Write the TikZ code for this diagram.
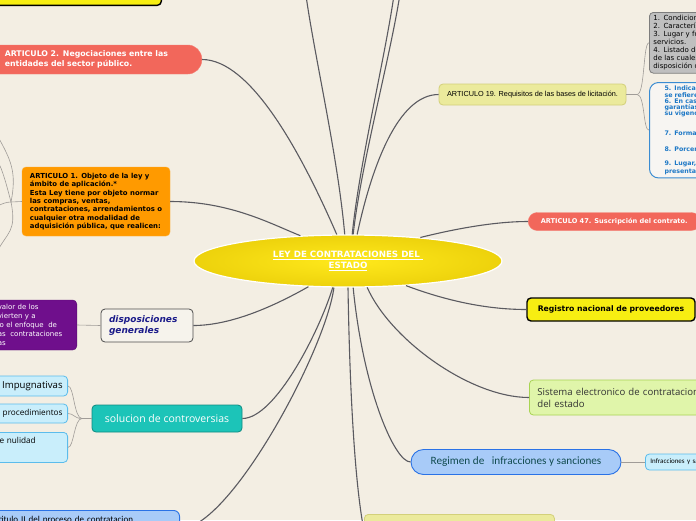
\documentclass[tikz,border=0pt]{standalone}
\usepackage{fontspec}
\setmainfont{DejaVu Sans}
\newfontfamily\calfont{Carlito}
\newfontfamily\opfont{Open Sans}
\newfontfamily\arfont{Liberation Sans}
\usepackage{tikz}
\usetikzlibrary{shapes.geometric}
\definecolor{paper}{HTML}{F3EEE3}
\definecolor{linegray}{HTML}{5A5A60}
\definecolor{twiggray}{HTML}{A09C98}
\definecolor{salmon}{HTML}{F2675B}
\definecolor{orangefill}{HTML}{FF9A00}
\definecolor{purplefill}{HTML}{6F0F8C}
\definecolor{dispfill}{HTML}{F6F3EC}
\definecolor{disptext}{HTML}{1B1B8A}
\definecolor{tealfill}{HTML}{1CC4B8}
\definecolor{tealline}{HTML}{0F8A80}
\definecolor{skyfill}{HTML}{C9EEFB}
\definecolor{skyline}{HTML}{5BBCEC}
\definecolor{bluefill}{HTML}{A8CBF8}
\definecolor{blueline}{HTML}{2A72E6}
\definecolor{khakifill}{HTML}{EBEA9C}
\definecolor{khakiline}{HTML}{D3D07A}
\definecolor{greyfill}{HTML}{BFBFBF}
\definecolor{greyline}{HTML}{7D7D7D}
\definecolor{notefill}{HTML}{F7F5F2}
\definecolor{noteline}{HTML}{3A8CD2}
\definecolor{notetext}{HTML}{1D78C6}
\definecolor{greenfill}{HTML}{E0F5AA}
\definecolor{greenline}{HTML}{A8D453}
\definecolor{regyellow}{HTML}{F7EE12}
\definecolor{leyyellow}{HTML}{FFE91C}
\definecolor{leyedge}{HTML}{EDD20C}
\definecolor{regtext}{HTML}{114B4F}
\tikzstyle{branch} = [draw=linegray, line width=1.1pt]
\tikzstyle{twig} = [draw=twiggray, line width=0.6pt]
\tikzstyle{salmonpill} = [rectangle, fill=salmon, draw=salmon!85!white, text=white, font=\bfseries\fontsize{7.8}{10}\selectfont, align=left]
\tikzstyle{orangebox} = [rectangle, rounded corners=4pt, fill=orangefill, draw=orangefill!80!white, font=\bfseries\fontsize{6.9}{8.4}\selectfont, align=left]
\tikzstyle{purplebox} = [rectangle, rounded corners=4pt, fill=purplefill, draw=purplefill!80!black, text=white, font=\fontsize{7}{9}\selectfont, align=left]
\tikzstyle{dispbox} = [rectangle, rounded corners=4pt, fill=dispfill, draw=black!70, line width=0.8pt, text=disptext, font=\bfseries\itshape\fontsize{9}{11}\selectfont, align=left]
\tikzstyle{tealbox} = [rectangle, rounded corners=4pt, fill=tealfill, draw=tealline, line width=0.8pt, text=white, font=\opfont\fontsize{10.5}{12}\selectfont]
\tikzstyle{skybox} = [rectangle, rounded corners=4pt, fill=skyfill, draw=skyline, line width=0.8pt, text width=80pt, inner xsep=5pt, align=right, font=\opfont\fontsize{8.2}{10}\selectfont]
\tikzstyle{bluebox} = [rectangle, rounded corners=6pt, fill=bluefill, draw=blueline, line width=0.9pt, font=\calfont\fontsize{9}{11}\selectfont]
\tikzstyle{khakibox} = [rectangle, rounded corners=4pt, fill=khakifill, draw=khakiline, line width=0.8pt]
\tikzstyle{yellowbox} = [rectangle, rounded corners=4pt, fill=regyellow, draw=black, line width=1.4pt]
\tikzset{
  central/.style={ellipse, minimum width=308pt, minimum height=52pt, inner sep=0pt,
    shade, inner color=leyyellow, outer color=leyedge, draw=white, line width=1.2pt,
    text=white, align=center, font=\bfseries\fontsize{8.7}{11}\selectfont},
  greybox/.style={rectangle, rounded corners=4pt, fill=greyfill, draw=greyline, line width=0.8pt,
    align=left, font=\fontsize{7}{8}\selectfont},
  notebox/.style={rectangle, rounded corners=9pt, fill=notefill, draw=noteline, line width=1pt,
    text=notetext, align=left, font=\bfseries\fontsize{6.3}{6.2}\selectfont},
  greenbox/.style={rectangle, rounded corners=4pt, fill=greenfill, draw=greenline, line width=0.8pt,
    text=black!80, font=\opfont\fontsize{9.6}{12}\selectfont}
}

\begin{document}
\begin{tikzpicture}[x=1pt, y=-1pt]
  \useasboundingbox (0,0) rectangle (696,520);
  \clip (0,0) rectangle (696,520);
  \fill[paper] (0,0) rectangle (696,520);

  % left side
  \node (topbox)[yellowbox, anchor=south east, minimum width=200pt, minimum height=40pt] at (162,6) {};
  \node (art2)[salmonpill, anchor=east, rounded corners=14pt, inner xsep=25pt, text width=172pt, minimum height=29pt] at (202,59.5) {ARTICULO 2. Negociaciones entre las\\entidades del sector público.};
  \node (art1)[orangebox, minimum width=148pt, minimum height=69pt] at (96,201.5) {ARTICULO 1. Objeto de la ley y\\ámbito de aplicación.*\\Esta Ley tiene por objeto normar\\las compras, ventas,\\contrataciones, arrendamientos o\\cualquier otra modalidad de\\adquisición pública, que realicen:};
  \node (prop)[purplebox, anchor=east, text width=76pt, inner xsep=3pt, minimum height=50pt] at (77,325) {valor de los\\vierten y a\\jo el enfoque\ \ de\\as\ \ contrataciones\\as};
  \node (disp)[dispbox, text width=76pt, inner xsep=8pt, minimum height=33pt] at (147,325.5) {disposiciones\\generales};
  \node (sol)[tealbox, minimum width=150pt, minimum height=27pt] at (167,418.5) {solucion de controversias};
  \node (impug)[skybox, anchor=east, minimum height=20pt, font=\opfont\fontsize{9.6}{11}\selectfont] at (68,386) {Impugnativas};
  \node (proc)[skybox, anchor=east, minimum height=19pt] at (68,413.5) {procedimientos};
  \node (nul)[skybox, anchor=north east, text width=63pt, align=left, text height=7pt, text depth=15pt, inner ysep=4pt] at (68,432) {e nulidad};
  \node (tit)[bluebox, anchor=north east, text width=176pt, inner xsep=5pt, align=left, text height=7pt, text depth=20pt, inner ysep=5pt] at (180,510) {titulo II del proceso de contratacion};
  \node (byel)[khakibox, anchor=north west, minimum width=190pt, minimum height=32pt] at (364,514) {};

  % centre
  \node (ley)[central] at (348,261) {\underline{LEY DE CONTRATACIONES DEL }\\\underline{ESTADO}};

  % right side
  \node (art19)[khakibox, minimum width=187pt, minimum height=21pt, font=\arfont\fontsize{7.3}{8}\selectfont] at (532.5,94.5) {ARTICULO 19. Requisitos de las bases de licitación.};
  \node (grey)[greybox, anchor=north west, text width=100pt, inner xsep=4pt, inner ysep=3pt] at (649,12) {1. Condiciones\\2. Características\\3. Lugar y forma\\servicios.\\4. Listado de\\de las cuales\\disposición de};
  \node (note)[notebox, anchor=north west, text width=100pt, inner xsep=15pt, minimum height=94pt] at (649,82) {5. Indicación\\se refiere\\6. En caso\\garantías\\su vigencia\\[14pt]7. Forma\\[9.8pt]8. Porcentaje\\[7.8pt]9. Lugar,\\presentación};
  \node (art47)[salmonpill, anchor=west, rounded corners=9pt, minimum width=172pt, minimum height=18pt, align=center, font=\bfseries\fontsize{6.6}{8}\selectfont] at (528,221.5) {ARTICULO 47. Suscripción del contrato.};
  \node (reg)[yellowbox, minimum width=168pt, minimum height=23pt, font=\bfseries\fontsize{7.7}{9}\selectfont] at (611,309.5) {Registro nacional de proveedores};
  \node (sis)[greenbox, anchor=west, text width=200pt, inner xsep=8pt, minimum height=35pt, align=left] at (529,397.5) {Sistema electronico de contrataciones\\del estado};
  \node (regimen)[bluebox, rounded corners=12.5pt, minimum width=210pt, minimum height=25pt, text=regtext, font=\calfont\fontsize{11.2}{12}\selectfont] at (516,462) {Regimen de~~ infracciones y sanciones};
  \node (infra)[skybox, anchor=west, align=left, minimum height=16pt, font=\calfont\fontsize{7}{8}\selectfont] at (645,462) {Infracciones y sanciones};

  \coordinate (j1) at (11,202);
  \coordinate (lA) at (-3,135);
  \coordinate (lB) at (-3,160);
  \coordinate (lC) at (-3,206);
  \coordinate (lD) at (-3,252);
  \coordinate (jsol) at (82,418.5);
  \coordinate (j19) at (637,94.5);
  \coordinate (upA) at (303,-30);
  \coordinate (upB) at (397,-30);
  \coordinate (upC) at (403,-30);

  % branches
  \draw[branch] (art2.east) .. controls +(48,0) and +(-37,-85) .. (ley.113);
  \draw[branch] (art1.east) .. controls +(60,0) and +(-30,-12) .. (ley.152);
  \draw[branch] (ley.97) .. controls +(-8,-90) and +(5,60) .. (upA);
  \draw[branch] (ley.81) .. controls +(8,-80) and +(-5,60) .. (upB);
  \draw[branch] (ley.79) .. controls +(9,-80) and +(-5,60) .. (upC);
  \draw[branch] (ley.71) .. controls +(15,-70) and +(-40,0) .. (art19.west);
  \draw[branch] (ley.18) .. controls +(40,-10) and +(-30,0) .. (art47.west);
  \draw[branch] (ley.337) .. controls +(40,15) and +(-40,0) .. (reg.west);
  \draw[branch] (ley.306) .. controls +(23,52) and +(-59,0) .. (sis.west);
  \draw[branch] (ley.281) .. controls +(10,102) and +(-16,0) .. (regimen.west);
  \draw[branch] (ley.270) .. controls +(2,120) and +(-8,-40) .. (byel.west);
  \draw[branch] (ley.240) .. controls +(-13,43) and +(33,0) .. (sol.east);
  \draw[branch] (ley.242) .. controls +(-8,62) and +(50,0) .. (tit.east);
  \draw[branch] (ley.213) .. controls +(-30,17) and +(40,0) .. (disp.east);

  % twigs
  \draw[twig] (art1.west) -- (j1);
  \draw[twig] (j1) .. controls +(6,-30) and +(14,25) .. (lA);
  \draw[twig] (j1) .. controls +(-4,-15) and +(6,10) .. (lB);
  \draw[twig] (j1) .. controls +(-5,0) and +(5,-2) .. (lC);
  \draw[twig] (j1) .. controls +(6,30) and +(10,-20) .. (lD);
  \draw[twig] (prop.east) -- (disp.west);
  \draw[twig] (sol.west) -- (jsol);
  \draw[twig] (jsol) .. controls +(-8,0) and +(6,0) .. (impug.east);
  \draw[twig] (jsol) .. controls +(-8,0) and +(6,0) .. (proc.east);
  \draw[twig] (jsol) .. controls +(-8,0) and +(6,0) .. (nul.east);
  \draw[twig] (art19.east) -- (j19);
  \draw[twig] (j19) .. controls +(8,0) and +(-6,0) .. (grey.west);
  \draw[twig] (j19) .. controls +(8,0) and +(-6,0) .. (note.west);
  \draw[twig] (regimen.east) -- (infra.west);
\end{tikzpicture}
\end{document}
